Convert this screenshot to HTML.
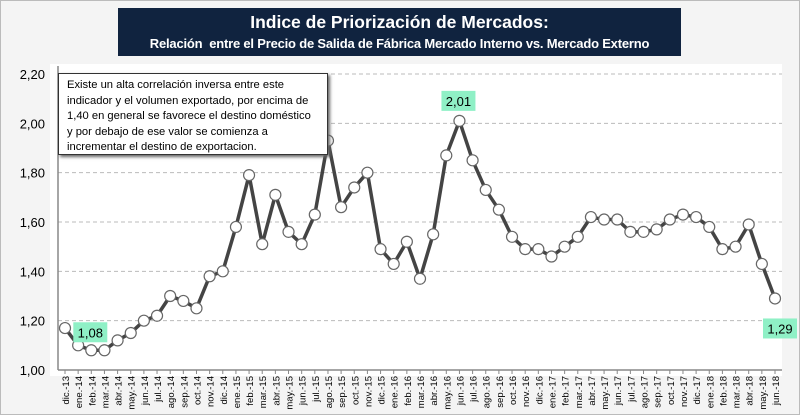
<!DOCTYPE html>
<html><head><meta charset="utf-8"><style>
body{margin:0;width:800px;height:415px;overflow:hidden;background:#fff;font-family:"Liberation Sans",Calibri,sans-serif}
#frame{position:absolute;left:0;top:0;width:798px;height:413px;border:1px solid #bbb;background:#f4f4f4}
#title{position:absolute;left:118px;top:8px;width:563px;height:48px;background:#10233f;color:#fff;text-align:center;font-weight:bold;white-space:nowrap}
#t1{font-size:17.5px;line-height:24px;margin-top:2px}
#t2{font-size:13px;line-height:20px;letter-spacing:-0.2px}
#note{position:absolute;left:58px;top:73px;width:252px;height:72px;padding:4px 8px;background:#fff;border:1.5px solid #333;box-shadow:2px 2px 3px #666;font-size:11.2px;line-height:15.5px;color:#000}
</style></head><body>
<div id="frame"></div>
<svg id="chart" width="800" height="415" style="position:absolute;left:0;top:0"></svg>
<div id="title"><div id="t1">Indice de Priorización de Mercados:</div><div id="t2">Relación&nbsp; entre el Precio de Salida de Fábrica Mercado Interno vs. Mercado Externo</div></div>
<div id="note">Existe un alta correlación inversa entre este indicador y el volumen exportado, por encima de 1,40 en general se favorece el destino doméstico y por debajo de ese valor se comienza a incrementar el destino de exportacion.</div>
<script>
const categories=["dic.-13","ene.-14","feb.-14","mar.-14","abr.-14","may.-14","jun.-14","jul.-14","ago.-14","sep.-14","oct.-14","nov.-14","dic.-14","ene.-15","feb.-15","mar.-15","abr.-15","may.-15","jun.-15","jul.-15","ago.-15","sep.-15","oct.-15","nov.-15","dic.-15","ene.-16","feb.-16","mar.-16","abr.-16","may.-16","jun.-16","jul.-16","ago.-16","sep.-16","oct.-16","nov.-16","dic.-16","ene.-17","feb.-17","mar.-17","abr.-17","may.-17","jun.-17","jul.-17","ago.-17","sep.-17","oct.-17","nov.-17","dic.-17","ene.-18","feb.-18","mar.-18","abr.-18","may.-18","jun.-18"];
const values=[1.17,1.10,1.08,1.08,1.12,1.15,1.20,1.22,1.30,1.28,1.25,1.38,1.40,1.58,1.79,1.51,1.71,1.56,1.51,1.63,1.93,1.66,1.74,1.80,1.49,1.43,1.52,1.37,1.55,1.87,2.01,1.85,1.73,1.65,1.54,1.49,1.49,1.46,1.50,1.54,1.62,1.61,1.61,1.56,1.56,1.57,1.61,1.63,1.62,1.58,1.49,1.50,1.59,1.43,1.29];
const yTicks=[1.0,1.2,1.4,1.6,1.8,2.0,2.2];
const labeled=[{i:2,txt:"1,08",dx:-18,dy:-28},{i:30,txt:"2,01",dx:-18,dy:-30},{i:54,txt:"1,29",dx:-12,dy:20}];
const svg=document.getElementById('chart');const NS='http://www.w3.org/2000/svg';
const L=58,R=782,T=74,B=370,x0=65,x1=775;
const xs=i=>x0+i*(x1-x0)/(categories.length-1);
const ys=v=>B-(v-1.0)/(1.2)*(B-T);
function mk(t,a,p){const e=document.createElementNS(NS,t);for(const k in a)e.setAttribute(k,a[k]);(p||svg).appendChild(e);return e;}
const pa=mk('rect',{x:50,y:64,width:732,height:312,fill:'#fff'});


yTicks.forEach(v=>{
 if(v>1.0){const g=mk('line',{x1:L,x2:R,y1:ys(v),y2:ys(v),stroke:'#bbb','stroke-dasharray':'4,3'});
 
 }
 const t=mk('text',{x:45,y:ys(v)+5,'text-anchor':'end','font-size':'13','fill':'#000'});t.textContent=v.toFixed(2).replace('.',',');
 
 
});
const ax=mk('line',{x1:L,x2:R,y1:B,y2:B,stroke:'#888','stroke-width':1.5});


const ay=mk('line',{x1:L,x2:L,y1:T-8,y2:B,stroke:'#888','stroke-width':1.5});


categories.forEach((c,i)=>{
 const x=xs(i);mk('line',{x1:x,x2:x,y1:B,y2:B+4,stroke:'#888'});
 const t=mk('text',{x:0,y:0,transform:`translate(${x+4},${B+6}) rotate(-90)`,'text-anchor':'end','font-size':'9.5',fill:'#000'});t.textContent=c;
 
 
});
const line=mk('polyline',{points:values.map((v,i)=>xs(i)+','+ys(v)).join(' '),fill:'none',stroke:'#444','stroke-width':3.5,'stroke-linejoin':'round'});


values.forEach((v,i)=>{const c=mk('circle',{cx:xs(i),cy:ys(v),r:5.5,fill:'#fff',stroke:'#666','stroke-width':1.2});
 
 });
labeled.forEach(d=>{const x=xs(d.i)+d.dx,y=ys(values[d.i])+d.dy;
 const r=mk('rect',{x:x,y:y,width:34,height:20,fill:'#8ff0c6'});
 
 
 const t=mk('text',{x:x+17,y:y+15,'text-anchor':'middle','font-size':'13',fill:'#000'});t.textContent=d.txt;
 
 });
</script>
</body></html>
